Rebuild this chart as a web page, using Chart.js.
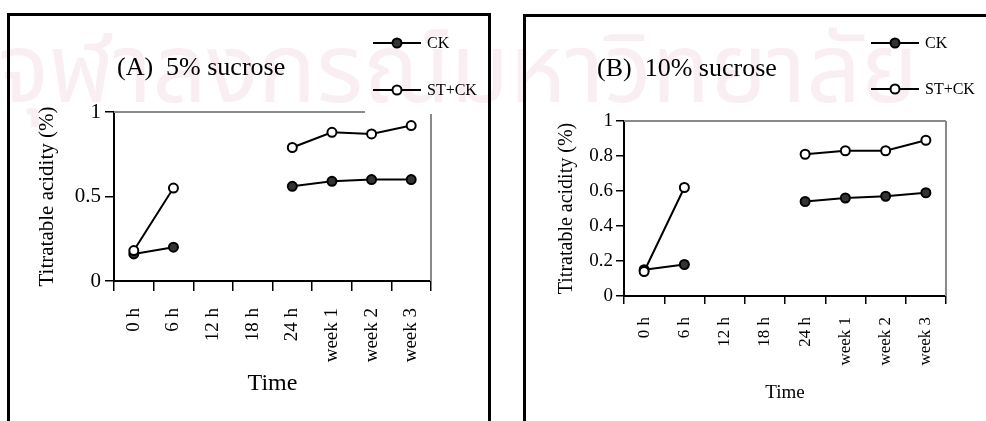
<html lang="en">

<head>
    <meta charset="UTF-8">
    <title>Titratable acidity</title>
    <script src="https://cdn.jsdelivr.net/npm/chart.js@4.4.1/dist/chart.umd.min.js"></script>
    <style>
        body { margin: 0; background: #fff; width: 986px; height: 421px; overflow: hidden; position: relative; }
        .mark { position: absolute; left: -2px; top: 0px; font: 96px "Noto Sans Thai", "Loma", "Garuda", "Norasi", sans-serif; color: #f9eff3; white-space: nowrap; letter-spacing: 0px; }
        .frame { position: absolute; border: 3px solid #000; }
        canvas { position: absolute; top: 0; }
    </style>
</head>

<body>
    <div class="mark">จุฬาลงกรณ์มหาวิทยาลัย</div>
    <div class="frame" style="left:7px; top:13px; width:478px; height:430px;"></div>
    <div class="frame" style="left:523px; top:14px; width:500px; height:430px;"></div>
    <canvas id="chartA" width="495" height="421" style="left:0px;"></canvas>
    <canvas id="chartB" width="486" height="421" style="left:500px;"></canvas>

    <script>
        // values
        const timeLabels = ['0 h', '6 h', '12 h', '18 h', '24 h', 'week 1', 'week 2', 'week 3'];
        const seriesNames = ['CK', 'ST+CK'];
        const ckA = [0.16, 0.20, null, null, 0.56, 0.59, 0.60, 0.60];
        const stckA = [0.18, 0.55, null, null, 0.79, 0.88, 0.87, 0.92];
        const ckB = [0.15, 0.18, null, null, 0.54, 0.56, 0.57, 0.59];
        const stckB = [0.14, 0.62, null, null, 0.81, 0.83, 0.83, 0.89];
        const yTicksA = [0, 0.5, 1];
        const yTicksB = [0, 0.2, 0.4, 0.6, 0.8, 1];

        const serif = 'Liberation Serif';

        // gray frame on top/right, title and line+marker legend
        const decor = {
            id: 'decor',
            beforeDatasetsDraw(chart, args, o) {
                const a = chart.chartArea;
                const ctx = chart.ctx;
                ctx.save();
                ctx.strokeStyle = '#8a8a8a';
                ctx.lineWidth = 2;
                ctx.beginPath();
                ctx.moveTo(a.left, a.top);
                ctx.lineTo(o.topEnd ? o.topEnd : a.right, a.top);
                ctx.moveTo(a.right, o.rightStart ? o.rightStart : a.top);
                ctx.lineTo(a.right, a.bottom);
                ctx.stroke();
                ctx.restore();
            },
            afterDraw(chart, args, o) {
                const ctx = chart.ctx;
                ctx.save();
                ctx.fillStyle = '#000';
                ctx.textBaseline = 'middle';
                ctx.font = o.titleSize + 'px "' + serif + '"';
                ctx.fillText(o.title, o.titleX, o.titleY);
                ctx.font = '16px "' + serif + '"';
                chart.data.datasets.forEach((ds, i) => {
                    const y = o.legY[i];
                    ctx.strokeStyle = '#000';
                    ctx.lineWidth = 2;
                    ctx.beginPath();
                    ctx.moveTo(o.legX, y);
                    ctx.lineTo(o.legX + 48, y);
                    ctx.stroke();
                    ctx.beginPath();
                    ctx.arc(o.legX + 24, y, 4.5, 0, Math.PI * 2);
                    ctx.fillStyle = ds.pointBackgroundColor;
                    ctx.fill();
                    ctx.stroke();
                    ctx.fillStyle = '#000';
                    ctx.fillText(ds.label, o.legX + 54, y + 1);
                });
                ctx.restore();
            }
        };

        function makeSet(label, values, fill, order) {
            return {
                label: label,
                data: values,
                order: order,
                borderColor: '#000',
                borderWidth: 2,
                pointRadius: 4.5,
                pointBorderWidth: 2,
                pointBorderColor: '#000',
                pointBackgroundColor: fill,
                spanGaps: false,
                tension: 0
            };
        }

        function makeChart(id, ck, stck, yTicks, p) {
            const ctx = document.getElementById(id).getContext('2d');
            return new Chart(ctx, {
                type: 'line',
                data: {
                    labels: timeLabels,
                    datasets: [
                        makeSet(seriesNames[0], ck, '#333', 1),
                        makeSet(seriesNames[1], stck, '#fff', 0)
                    ]
                },
                options: {
                    responsive: false,
                    animation: false,
                    events: [],
                    layout: { padding: { left: 0, top: p.top, right: p.right, bottom: 0 } },
                    plugins: {
                        legend: { display: false },
                        tooltip: { enabled: false },
                        decor: p.decor
                    },
                    scales: {
                        x: {
                            offset: true,
                            afterFit: s => { s.height = p.xHeight; },
                            grid: { offset: true, drawOnChartArea: false, color: '#000', lineWidth: 1.5, tickLength: p.xTick },
                            border: { color: '#000', width: 2 },
                            ticks: {
                                autoSkip: false, minRotation: 90, maxRotation: 90,
                                color: '#000', padding: p.xPad,
                                font: { family: serif, size: p.xFont }
                            },
                            title: {
                                display: true, text: 'Time', color: '#000',
                                font: { family: serif, size: p.timeFont },
                                padding: { top: 0, bottom: p.timePad }
                            }
                        },
                        y: {
                            min: 0, max: 1,
                            afterFit: s => { s.width = p.yWidth; },
                            afterBuildTicks: s => { s.ticks = yTicks.map(v => ({ value: v })); },
                            grid: { drawOnChartArea: false, color: '#000', lineWidth: 1.5, tickLength: p.yTick },
                            border: { color: '#000', width: 2 },
                            ticks: {
                                color: '#000', padding: p.yPad,
                                font: { family: serif, size: p.yFont },
                                callback: v => String(v)
                            },
                            title: {
                                display: true, text: 'Titratable acidity (%)', color: '#000',
                                font: { family: serif, size: p.yTitleFont },
                                padding: { top: p.yTitlePad, bottom: 0 }
                            }
                        }
                    }
                },
                plugins: [decor]
            });
        }

        makeChart('chartA', ckA, stckA, yTicksA, {
            top: 112, right: 64, xHeight: 140, yWidth: 114,
            xTick: 10, xPad: 17, xFont: 19, timeFont: 24, timePad: 23,
            yTick: 9, yPad: 4, yFont: 21, yTitleFont: 21, yTitlePad: 35,
            decor: { title: '(A)  5% sucrose', titleSize: 26, titleX: 117, titleY: 68,
                     legX: 373, legY: [43, 90], topEnd: 365, rightStart: 114 }
        });

        makeChart('chartB', ckB, stckB, yTicksB, {
            top: 121, right: 40, xHeight: 125, yWidth: 124,
            xTick: 8, xPad: 13, xFont: 17, timeFont: 19, timePad: 17,
            yTick: 8, yPad: 3, yFont: 19, yTitleFont: 20, yTitlePad: 55,
            decor: { title: '(B)  10% sucrose', titleSize: 26, titleX: 97, titleY: 69,
                     legX: 371, legY: [43, 89] }
        });
    </script>

</body>

</html>
